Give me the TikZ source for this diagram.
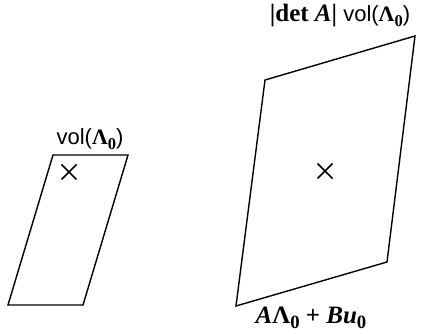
\documentclass[tikz,border=0pt]{standalone}
\usepackage{fontspec}
\setmainfont{Liberation Sans}
\newfontfamily\tms{Liberation Serif}
\newcommand{\bsb}[1]{\raisebox{-0.2em}{\fontsize{0.75em}{0.75em}\selectfont\tms\bfseries #1}}
\newcommand{\BLam}{{\tms\bfseries Λ}}
\begin{document}
\begin{tikzpicture}[x=1pt,y=-1pt,
  edge/.style={draw=black,line width=1.4pt,line join=miter},
  crossline/.style={draw=black,line width=1.5pt},
  lbl/.style={font=\fontsize{22}{22}\selectfont,inner sep=0pt},
  blbl/.style={font=\fontsize{25}{25}\selectfont,inner sep=0pt}]
\useasboundingbox (0,0) rectangle (421,334);
% small parallelogram
\coordinate (s1) at (53,155);
\coordinate (s2) at (128,155);
\coordinate (s3) at (83,305);
\coordinate (s4) at (8,305);
\draw[edge] (s1) -- (s2) -- (s3) -- (s4) -- cycle;
\coordinate (c1) at (69,172);
\draw[crossline] ([shift={(-7.5,-7.5)}]c1) -- ([shift={(7.5,7.5)}]c1);
\draw[crossline] ([shift={(-7.5,7.5)}]c1) -- ([shift={(7.5,-7.5)}]c1);
\node[lbl] (l1) at (90,139) {vol(\BLam\bsb{0})};
% big parallelogram
\coordinate (b1) at (265,80);
\coordinate (b2) at (415,36);
\coordinate (b3) at (387,262);
\coordinate (b4) at (236,306);
\draw[edge] (b1) -- (b2) -- (b3) -- (b4) -- cycle;
\coordinate (c2) at (325,171);
\draw[crossline] ([shift={(-7.5,-7.5)}]c2) -- ([shift={(7.5,7.5)}]c2);
\draw[crossline] ([shift={(-7.5,7.5)}]c2) -- ([shift={(7.5,-7.5)}]c2);
\node[lbl] (l2) at (340,16) {{\fontsize{25}{25}\selectfont\tms\bfseries|det \textit{A}|} vol(\BLam\bsb{0})};
\node[blbl] (l3) at (311,318) {{\tms\bfseries\itshape A}\BLam\bsb{0}{\tms\bfseries\ + }{\tms\bfseries\itshape Bu}\bsb{0}};
\end{tikzpicture}
\end{document}
